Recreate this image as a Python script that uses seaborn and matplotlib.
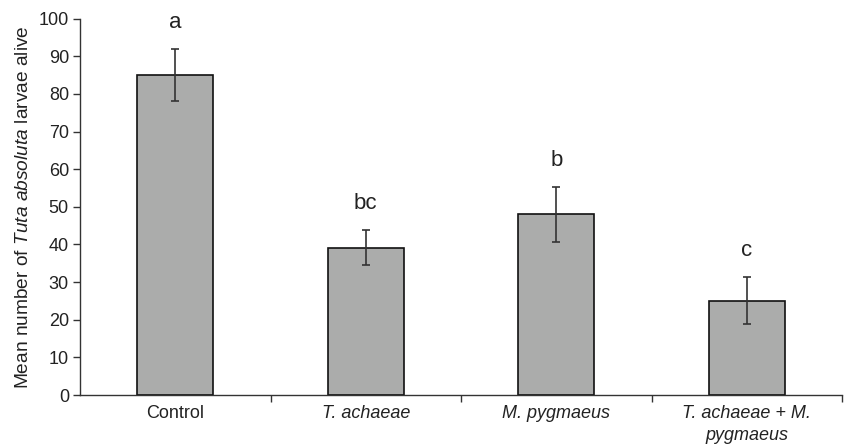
import matplotlib
matplotlib.use("Agg")
import matplotlib.pyplot as plt
import seaborn as sns
import numpy as np
import pandas as pd
from matplotlib.ticker import FixedLocator, NullFormatter

categories = ["Control", "T. achaeae", "M. pygmaeus", "T. achaeae + M.\npygmaeus"]
means = [85.0, 39.0, 48.0, 25.0]
err_low = [78.0, 34.5, 40.7, 18.9]
err_high = [92.0, 43.8, 55.3, 31.4]
letters = ["a", "bc", "b", "c"]
yticks = [0, 10, 20, 30, 40, 50, 60, 70, 80, 90, 100]

sns.set_theme(style="white")
plt.rcParams["font.family"] = ["Liberation Sans", "DejaVu Sans"]
plt.rcParams["mathtext.fontset"] = "custom"
plt.rcParams["mathtext.rm"] = "Liberation Sans"
plt.rcParams["mathtext.it"] = "Liberation Sans:italic"

df = pd.DataFrame({"cat": categories, "mean": means})

fig = plt.figure(figsize=(8.44, 4.48), dpi=100)
ax = fig.add_axes([80 / 844, 1 - 395 / 448, 762 / 844, (395 - 18.7) / 448])

sns.barplot(data=df, x="cat", y="mean", color="#ABACAB", saturation=1,
            edgecolor="#111111", linewidth=1.2, width=0.4, errorbar=None, ax=ax)

xs = np.arange(len(categories))
lo = np.array(means) - np.array(err_low)
hi = np.array(err_high) - np.array(means)
ax.errorbar(xs, means, yerr=[lo, hi], fmt="none", ecolor="#333333",
            elinewidth=1.2, capsize=2.6, capthick=1.2)

for x, top, lab in zip(xs, err_high, letters):
    ax.text(x, top + 5.5, lab, ha="center", va="baseline", fontsize=16, color="#222222")

ax.set_ylim(0, 100)
ax.set_xlim(-0.5, len(categories) - 0.5)
ax.set_yticks(yticks)
ax.tick_params(axis="y", which="major", direction="out", length=5, width=1,
               color="#333333", labelsize=13, labelcolor="#222222", pad=3, left=True)

ax.xaxis.set_major_locator(FixedLocator([0.5, 1.5, 2.5, 3.5]))
ax.xaxis.set_major_formatter(NullFormatter())
ax.xaxis.set_minor_locator(FixedLocator(list(xs)))
ax.set_xticks(xs, labels=categories, minor=True)
ax.tick_params(axis="x", which="major", direction="out", length=5, width=1,
               color="#333333", bottom=True)
ax.tick_params(axis="x", which="minor", length=0, labelsize=13, labelcolor="#222222", pad=7)
for i, t in enumerate(ax.xaxis.get_minorticklabels()):
    t.set_linespacing(1.4)
    if i > 0:
        t.set_fontstyle("italic")

ax.set_xlabel("")
ax.set_ylabel(r"Mean number of $\mathit{Tuta\ absoluta}$ larvae alive", fontsize=13.8,
              color="#222222", labelpad=5)

for s in ["top", "right"]:
    ax.spines[s].set_visible(False)
for s in ["left", "bottom"]:
    ax.spines[s].set_color("#333333")
    ax.spines[s].set_linewidth(1)

fig.savefig("out.png", dpi=100)
